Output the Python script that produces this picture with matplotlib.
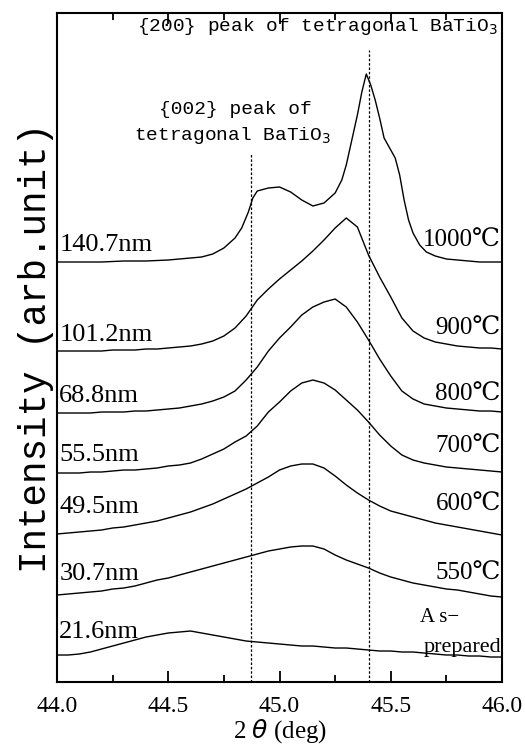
import numpy as np
import matplotlib
matplotlib.use('Agg')
import matplotlib.pyplot as plt
from matplotlib.ticker import MultipleLocator, FormatStrFormatter

# 2theta grid (deg)
two_theta = [44.00, 44.05, 44.10, 44.15, 44.20, 44.25, 44.30, 44.35, 44.40, 44.45,
             44.50, 44.55, 44.60, 44.65, 44.70, 44.75, 44.80, 44.85, 44.90, 44.95,
             45.00, 45.05, 45.10, 45.15, 45.20, 45.25, 45.30, 45.35, 45.40, 45.45,
             45.50, 45.55, 45.60, 45.65, 45.70, 45.75, 45.80, 45.85, 45.90, 45.95, 46.00]

# the 1000C pattern has sharper features, so it gets its own finer grid
two_theta_1000 = [44.00, 44.10, 44.20, 44.30, 44.40, 44.50, 44.60, 44.65, 44.70, 44.75,
                  44.80, 44.83, 44.86, 44.88, 44.90, 44.95, 45.00, 45.05, 45.10, 45.15,
                  45.20, 45.25, 45.28, 45.30, 45.33, 45.35, 45.37, 45.39, 45.41, 45.43,
                  45.45, 45.47, 45.50, 45.52, 45.54, 45.56, 45.58, 45.60, 45.63, 45.66,
                  45.70, 45.75, 45.80, 45.90, 46.00]

# stacked intensities (arb. unit)
i_1000 = [420, 420, 420, 421, 421, 422, 424, 425, 428, 434,
          444, 454, 470, 484, 491, 494, 495, 490, 482, 476,
          479, 489, 502, 517, 547, 567, 590, 608, 597, 582,
          564, 544, 532, 524, 507, 482, 462, 449, 437, 430,
          426, 423, 422, 420, 420]
i_900 = [331, 331, 331, 331, 331, 332, 332, 332, 333, 333,
         334, 335, 336, 338, 341, 346, 354, 366, 382, 393,
         403, 412, 421, 431, 442, 454, 464, 455, 427, 405,
         385, 364, 351, 344, 340, 338, 336, 335, 334, 334, 333]
i_800 = [269, 269, 269, 269, 270, 270, 270, 271, 271, 272,
         273, 274, 276, 278, 281, 285, 291, 302, 315, 331,
         344, 355, 367, 375, 380, 383, 375, 360, 342, 323,
         306, 291, 283, 278, 276, 274, 273, 272, 271, 271, 270]
i_700 = [209, 209, 209, 210, 210, 211, 212, 212, 213, 214,
         216, 217, 219, 223, 228, 233, 240, 246, 256, 270,
         280, 291, 299, 302, 299, 292, 282, 272, 260, 247,
         236, 227, 222, 219, 217, 215, 214, 213, 212, 211, 210]
i_600 = [148, 149, 150, 151, 152, 154, 155, 157, 159, 161,
         164, 167, 170, 174, 178, 183, 188, 193, 199, 205,
         212, 216, 218, 218, 214, 206, 197, 189, 182, 176,
         171, 168, 165, 162, 159, 157, 155, 153, 151, 149, 147]
i_550 = [87, 88, 89, 90, 91, 93, 94, 96, 99, 102,
         104, 107, 110, 113, 116, 119, 122, 125, 128, 131,
         133, 135, 136, 136, 133, 127, 122, 118, 114, 109,
         105, 102, 99, 97, 95, 93, 92, 90, 88, 86, 85]
i_asprep = [27, 27, 28, 30, 33, 36, 39, 42, 45, 47,
            49, 50, 51, 49, 47, 45, 43, 41, 40, 39,
            38, 37, 36, 36, 35, 34, 34, 33, 32, 31,
            31, 30, 30, 29, 28, 27, 27, 26, 26, 25, 25]

sizes = ['140.7nm', '101.2nm', '68.8nm', '55.5nm', '49.5nm', '30.7nm', '21.6nm']
temps = ['1000℃', '900℃', '800℃', '700℃', '600℃', '550℃']
size_y = [437, 347, 286, 227, 175, 108, 50]
temp_y = [441, 353, 287, 235, 177, 108]

peak_002 = 44.87
peak_200 = 45.40

serif = ['Liberation Serif', 'DejaVu Serif', 'Noto Sans CJK SC']
mono = ['Liberation Mono', 'DejaVu Sans Mono']

fig = plt.figure(figsize=(5.25, 7.47), dpi=100)
ax = fig.add_axes([0.1086, 0.087, 0.8476, 0.8956])

ax.plot(two_theta_1000, i_1000, color='black', lw=1.0)
for c in [i_900, i_800, i_700, i_600, i_550, i_asprep]:
    ax.plot(two_theta, c, color='black', lw=1.0)

ax.plot([peak_002, peak_002], [0, 529], color='black', lw=0.9, ls=(0, (2, 1.5)))
ax.plot([peak_200, peak_200], [0, 632], color='black', lw=0.9, ls=(0, (2, 1.5)))

for s, y in zip(sizes, size_y):
    ax.text(44.01, y, s, ha='left', va='center', fontsize=19, family=serif)
for t, y in zip(temps, temp_y):
    ax.text(45.995, y, t, ha='right', va='center', fontsize=18, family=serif)
ax.text(45.63, 65, 'A s\u2212', ha='left', va='center', fontsize=15, family=serif)
ax.text(45.995, 35, 'prepared', ha='right', va='center', fontsize=16, family=serif)

ax.text(45.17, 655, '{200} peak of tetragonal BaTiO$_3$', ha='center', va='center',
        fontsize=14, family=mono)
ax.text(44.80, 572, '{002} peak of', ha='center', va='center', fontsize=14, family=mono)
ax.text(44.79, 547, 'tetragonal BaTiO$_3$', ha='center', va='center', fontsize=14, family=mono)

ax.set_xlim(44.0, 46.0)
ax.set_ylim(0, 669)
ax.set_yticks([])
ax.xaxis.set_major_locator(MultipleLocator(0.5))
ax.xaxis.set_minor_locator(MultipleLocator(0.25))
ax.xaxis.set_major_formatter(FormatStrFormatter('%.1f'))
ax.tick_params(axis='x', which='both', direction='in', top=True, width=1.3)
ax.tick_params(axis='x', which='major', length=8, pad=10)
ax.tick_params(axis='x', which='minor', length=5)
for lbl in ax.get_xticklabels():
    lbl.set_family(serif)
    lbl.set_fontsize(17)
for sp in ax.spines.values():
    sp.set_linewidth(1.5)

ax.set_xlabel('2 $\\it{\\theta}$ (deg)', fontsize=18, family=serif, labelpad=0)
ax.set_ylabel('Intensity (arb.unit)', fontsize=27, family=mono, labelpad=2)

fig.savefig('out.png', dpi=100)
